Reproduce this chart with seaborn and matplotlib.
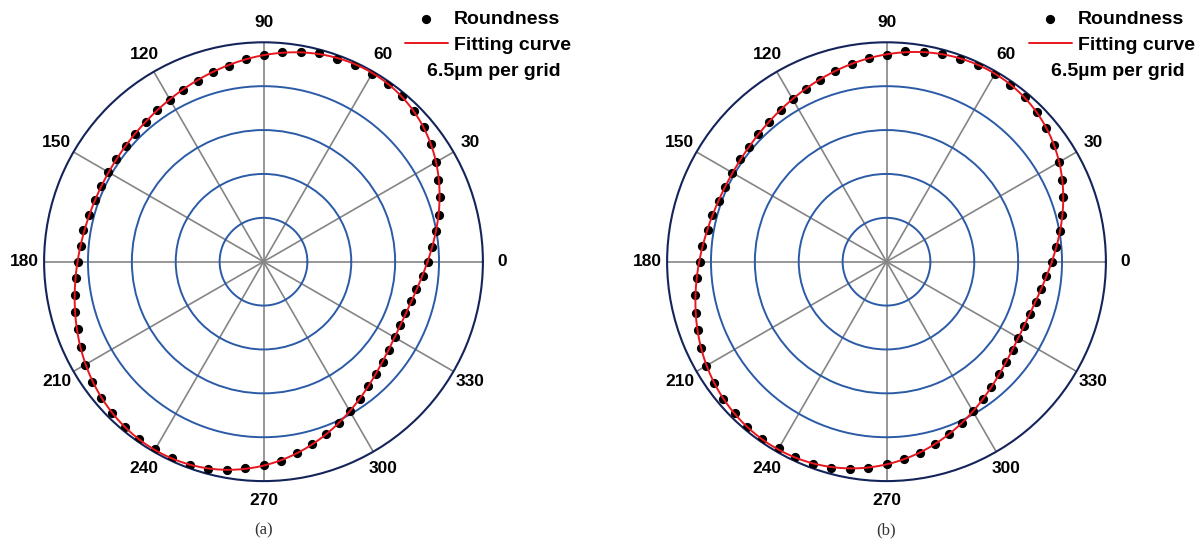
import numpy as np
import matplotlib
matplotlib.use("Agg")
import matplotlib.pyplot as plt
import seaborn as sns

# roundness profile, sampled every 5 degrees, in grid units (1 grid = 6.5 um)
angles_deg = np.arange(0, 360, 5)

roundness_a = [
    3.76, 3.86, 3.99, 4.13, 4.28, 4.40, 4.54, 4.66, 4.76, 4.85, 4.92, 4.94,
    4.94, 4.95, 4.92, 4.92, 4.86, 4.79, 4.71, 4.64, 4.54, 4.48, 4.39, 4.33,
    4.26, 4.22, 4.17, 4.13, 4.10, 4.09, 4.08, 4.08, 4.08, 4.12, 4.17, 4.18,
    4.22, 4.29, 4.37, 4.44, 4.51, 4.60, 4.69, 4.76, 4.84, 4.89, 4.91, 4.93,
    4.94, 4.94, 4.92, 4.88, 4.83, 4.73, 4.64, 4.55, 4.43, 4.31, 4.18, 4.05,
    3.92, 3.82, 3.71, 3.63, 3.55, 3.49, 3.45, 3.44, 3.44, 3.48, 3.53, 3.64,
]

roundness_b = [
    3.78, 3.88, 4.01, 4.15, 4.29, 4.42, 4.55, 4.65, 4.74, 4.84, 4.90, 4.92,
    4.93, 4.94, 4.92, 4.91, 4.86, 4.81, 4.72, 4.65, 4.57, 4.50, 4.41, 4.35,
    4.28, 4.21, 4.17, 4.13, 4.08, 4.07, 4.06, 4.05, 4.06, 4.11, 4.14, 4.21,
    4.26, 4.33, 4.42, 4.50, 4.58, 4.67, 4.75, 4.80, 4.87, 4.89, 4.93, 4.93,
    4.91, 4.91, 4.90, 4.86, 4.79, 4.71, 4.62, 4.52, 4.42, 4.29, 4.18, 4.06,
    3.92, 3.83, 3.72, 3.63, 3.56, 3.51, 3.47, 3.46, 3.47, 3.52, 3.58, 3.66,
]

theta_ticks = list(range(0, 360, 30))
theta_labels = [str(t) for t in theta_ticks]
grid_rings = [1, 2, 3, 4]
panel_names = ["(a)", "(b)"]

RING_BLUE = "#2b5aa6"
NAVY = "#14245a"
GRAY = "#858585"
RED = "#e8161e"


def fourier_fit(theta, r, order=4, n=721):
    """Least-squares harmonic fit of r(theta), evaluated on a closed dense grid."""
    cols = [np.ones_like(theta)]
    for k in range(1, order + 1):
        cols += [np.cos(k * theta), np.sin(k * theta)]
    coef, *_ = np.linalg.lstsq(np.column_stack(cols), r, rcond=None)
    t = np.linspace(0, 2 * np.pi, n)
    cols = [np.ones_like(t)]
    for k in range(1, order + 1):
        cols += [np.cos(k * t), np.sin(k * t)]
    return t, np.column_stack(cols) @ coef


def draw_panel(ax, values):
    theta = np.deg2rad(angles_deg)
    r = np.asarray(values)
    sns.scatterplot(x=theta, y=r, ax=ax, color="black", s=44, linewidth=0,
                    zorder=3, label="Roundness")
    t_fit, r_fit = fourier_fit(theta, r)
    sns.lineplot(x=t_fit, y=r_fit, ax=ax, color=RED, linewidth=1.4,
                 sort=False, estimator=None, zorder=4, label="Fitting curve")

    ax.set_ylim(0, 5)
    ax.set_rticks(grid_rings)
    ax.set_yticklabels([])
    ax.set_thetagrids(theta_ticks, theta_labels, fontsize=12.5,
                      fontweight="bold", color="black")
    ax.set_xticks(np.deg2rad(np.arange(15, 360, 30)), minor=True)
    ax.tick_params(axis="x", which="major", length=0, pad=7)
    ax.tick_params(axis="x", which="minor", direction="in", length=5,
                   width=1, color=NAVY)
    ax.yaxis.grid(True, color=RING_BLUE, linewidth=1.4)
    ax.xaxis.grid(True, color=GRAY, linewidth=1.2)
    ax.spines["polar"].set_color(NAVY)
    ax.spines["polar"].set_linewidth(1.5)
    ax.set_xlabel("")
    ax.set_ylabel("")
    ax.set_axisbelow(True)


sns.set_style("white")
plt.rcParams["font.family"] = ["Liberation Sans", "DejaVu Sans"]
plt.rcParams["text.color"] = "black"

W, H = 1197, 545
fig = plt.figure(figsize=(W / 100, H / 100), dpi=100)

centers = [(263.5, 261.7), (886.5, 261.7)]
radius = 219.4
legend_x = [405, 1029]

for i, values in enumerate([roundness_a, roundness_b]):
    cx, cy = centers[i]
    ax = fig.add_axes([(cx - radius) / W, (H - cy - radius) / H,
                       2 * radius / W, 2 * radius / H], projection="polar")
    draw_panel(ax, values)

    handles, labels = ax.get_legend_handles_labels()
    leg = ax.legend(handles, labels, loc="upper left",
                    bbox_to_anchor=(legend_x[i] / W, 1 - 10 / H),
                    bbox_transform=fig.transFigure, frameon=False,
                    prop={"family": ["Liberation Sans", "DejaVu Sans"],
                          "weight": "bold", "size": 14},
                    borderpad=0, borderaxespad=0, handlelength=2.2,
                    handletextpad=0.3, labelspacing=0.45, markerscale=1.0)
    for txt in leg.get_texts():
        txt.set_color("black")
    fig.text((legend_x[i] + 22) / W, 1 - 71 / H, "6.5\u00b5m per grid",
             ha="left", va="center", fontsize=14, fontweight="bold",
             color="black")
    fig.text(cx / W, 1 - 530 / H, panel_names[i], ha="center", va="center",
             fontsize=12, family=["Liberation Serif", "DejaVu Serif"],
             color="#333333")

fig.savefig("out.png", dpi=100)
